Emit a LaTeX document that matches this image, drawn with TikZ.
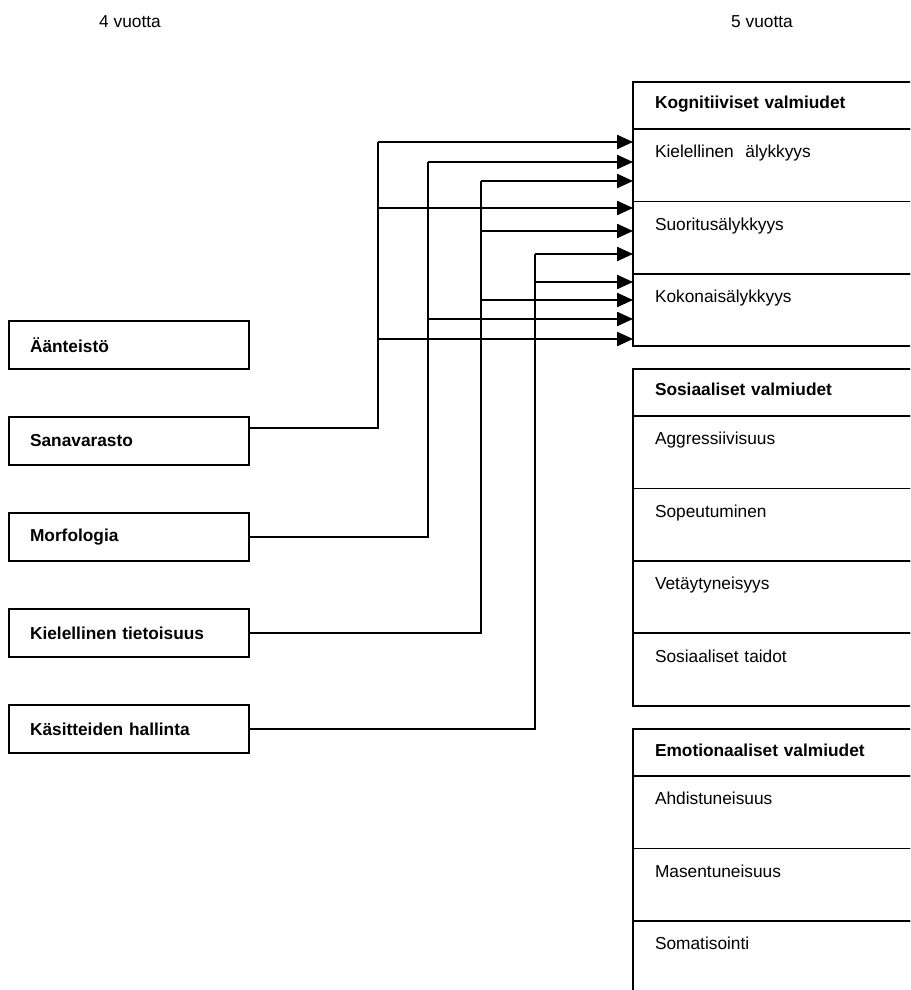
\documentclass[tikz,border=0pt]{standalone}
\usepackage{fontspec}
\setmainfont{Liberation Sans}
\usetikzlibrary{positioning,arrows.meta}
\newcommand\chartfont{\fontsize{9.85pt}{12pt}\selectfont}
\tikzset{
    skill box/.style={
        draw, line width=1.1pt, outer sep=0pt,
        minimum width=4.8cm, minimum height=0.96cm,
        text width=3.96cm, inner xsep=0.42cm, align=left,
        font=\chartfont\bfseries
    },
    group head/.style={
        draw, line width=1.1pt, outer sep=0pt, anchor=north west,
        text width=5.12cm, inner xsep=0.44cm, inner ysep=0pt,
        text height=0.54cm, text depth=0.40cm, align=left,
        font=\chartfont\bfseries
    },
    group row/.style={
        group head, font=\chartfont,
        text height=0.58cm, text depth=0.87cm
    },
    link/.style={line width=0.9pt},
    link arrow/.style={link, -{Triangle[length=9pt,width=8pt]}}
}
\begin{document}
\begin{tikzpicture}[x=0.02cm, y=-0.02cm]
    \useasboundingbox (0,0) rectangle (910,990);
    \clip (0,0) rectangle (910,990);

    \node[font=\chartfont] (v4) at (130,22) {4 vuotta};
    \node[font=\chartfont] (v5) at (762,22) {5 vuotta};

    \node[skill box] (aan) at (129,345) {Äänteistö};
    \node[skill box, below=0.96cm of aan] (sana) {Sanavarasto};
    \node[skill box, below=0.96cm of sana] (morf) {Morfologia};
    \node[skill box, below=0.96cm of morf] (tiet) {Kielellinen tietoisuus};
    \node[skill box, below=0.96cm of tiet] (kasit) {Käsitteiden hallinta};

    \node[group head] (kog) at (633,82) {Kognitiiviset valmiudet};
    \node[group row, below=0pt of kog] (kiel) {Kielellinen~~älykkyys};
    \node[group row, below=0pt of kiel] (suor) {Suoritusälykkyys};
    \node[group row, below=0pt of suor] (koko) {Kokonaisälykkyys};

    \node[group head] (sos) at (633,369) {Sosiaaliset valmiudet};
    \node[group row, below=0pt of sos] (aggr) {Aggressiivisuus};
    \node[group row, below=0pt of aggr] (sope) {Sopeutuminen};
    \node[group row, below=0pt of sope] (veta) {Vetäytyneisyys};
    \node[group row, below=0pt of veta] (taid) {Sosiaaliset taidot};

    \node[group head] (emo) at (633,729) {Emotionaaliset valmiudet};
    \node[group row, below=0pt of emo] (ahd) {Ahdistuneisuus};
    \node[group row, below=0pt of ahd] (mas) {Masentuneisuus};
    \node[group row, below=0pt of mas] (som) {Somatisointi};

    \draw[link] ([yshift=0.26cm]sana.east) -| (378,142);
    \foreach \y/\r in {142/kiel,208/suor,339/koko}
        \draw[link arrow] (378,\y) -- (\r.west |- 0,\y);

    \draw[link] (morf.east) -| (428,162);
    \foreach \y/\r in {162/kiel,319/koko}
        \draw[link arrow] (428,\y) -- (\r.west |- 0,\y);

    \draw[link] (tiet.east) -| (481,181);
    \foreach \y/\r in {181/kiel,231/suor,300/koko}
        \draw[link arrow] (481,\y) -- (\r.west |- 0,\y);

    \draw[link] (kasit.east) -| (535,254);
    \foreach \y/\r in {254/suor,282/koko}
        \draw[link arrow] (535,\y) -- (\r.west |- 0,\y);
\end{tikzpicture}
\end{document}
